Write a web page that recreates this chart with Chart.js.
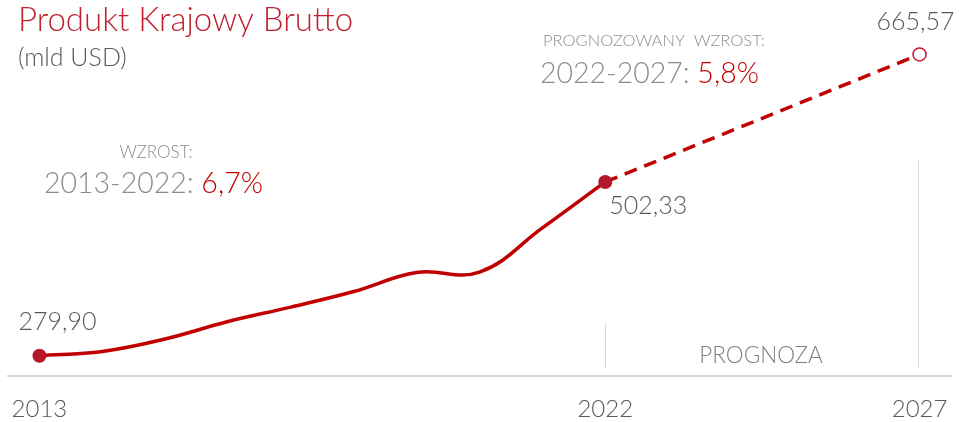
<!DOCTYPE html>
<html><head><meta charset="utf-8">
<script src="https://cdn.jsdelivr.net/npm/chart.js@4.4.1/dist/chart.umd.min.js"></script>
<style>html,body{margin:0;padding:0;background:#fff}#wrap{width:959px;height:422px;position:relative}</style>
</head><body><div id="wrap"><canvas id="c"></canvas></div>
<script>
const years = [2013,2014,2015,2016,2017,2018,2019,2020,2021,2022,2023,2024,2025,2026,2027];
const actualValues = [279.90,285.4,301.3,323.7,342.2,362.1,386.4,387.0,443.5,502.33,null,null,null,null,null];
const forecastValues = [null,null,null,null,null,null,null,null,null,502.33,null,null,null,null,665.57];
const tickYears = [2013,2022,2027];
const labelYears = [2013,2022,2027];
const titleText = 'Produkt Krajowy Brutto';
const unitText = '(mld USD)';
const growthLabel = 'WZROST:';
const growthPeriod = '2013-2022: ';
const growthValue = '6,7%';
const fcLabel = 'PROGNOZOWANY  WZROST:';
const fcPeriod = '2022-2027: ';
const fcValue = '5,8%';
const forecastText = 'PROGNOZA';

const FONT = 'Lato, "Open Sans", sans-serif';
const RED = '#c00000';
const DOT = '#b5172b';

function pts(vals){ return years.map((y,i)=>({x:y,y:vals[i]})).filter(p=>p.y!==null); }
function fmt(v){ return v.toFixed(2).replace('.', ','); }

const annot = {
  id:'annot',
  beforeDatasetsDraw(chart){
    const ctx = chart.ctx, xs = chart.scales.x;
    ctx.save();
    ctx.strokeStyle = '#d9d9d9'; ctx.lineWidth = 1;
    const x1 = Math.round(xs.getPixelForValue(2022)) + 0.5;
    const x2 = Math.round(xs.getPixelForValue(2027)) - 1.5;
    ctx.beginPath(); ctx.moveTo(x1,323); ctx.lineTo(x1,368); ctx.stroke();
    ctx.beginPath(); ctx.moveTo(x2,160); ctx.lineTo(x2,368); ctx.stroke();
    ctx.restore();
  },
  afterDraw(chart){
    const ctx = chart.ctx, xs = chart.scales.x, ys = chart.scales.y;
    ctx.save();
    ctx.textBaseline = 'alphabetic';
    ctx.fillStyle = '#be1e2d'; ctx.font = '300 33px ' + FONT; ctx.textAlign='left';
    ctx.fillText(titleText, 18, 31);
    ctx.fillStyle = '#595959'; ctx.font = '300 25px ' + FONT;
    ctx.fillText(unitText, 18, 66);
    ctx.fillStyle = '#8c8c8c'; ctx.font = '300 17px ' + FONT; ctx.textAlign='center';
    ctx.fillText(growthLabel, 156, 158);
    ctx.font = '300 28.5px ' + FONT; ctx.textAlign='left';
    let w = ctx.measureText(growthPeriod).width;
    ctx.fillText(growthPeriod, 44, 193);
    ctx.fillStyle = RED; ctx.fillText(growthValue, 44 + w, 193);
    ctx.fillStyle = '#8c8c8c'; ctx.font = '300 16.5px ' + FONT; ctx.textAlign='left';
    ctx.fillText(fcLabel, 543, 46);
    ctx.font = '300 28.5px ' + FONT;
    w = ctx.measureText(fcPeriod).width;
    ctx.fillText(fcPeriod, 540, 83);
    ctx.fillStyle = RED; ctx.fillText(fcValue, 540 + w, 83);
    ctx.fillStyle = '#7f7f7f'; ctx.font = '300 22.5px ' + FONT; ctx.textAlign='center';
    ctx.fillText(forecastText, 761, 363);
    ctx.fillStyle = '#595959'; ctx.font = '300 25px ' + FONT;
    const v0 = actualValues[0], v1 = actualValues[9], v2 = forecastValues[14];
    ctx.textAlign='left';
    ctx.fillText(fmt(v0), xs.getPixelForValue(labelYears[0]) - 21, ys.getPixelForValue(v0) - 26);
    ctx.fillText(fmt(v1), xs.getPixelForValue(labelYears[1]) + 4, ys.getPixelForValue(v1) + 32);
    ctx.textAlign='center';
    ctx.fillText(fmt(v2), xs.getPixelForValue(labelYears[2]) - 4, ys.getPixelForValue(v2) - 24);
    ctx.restore();
  }
};

new Chart(document.getElementById('c'), {
  type:'line',
  data:{ datasets:[
    { data: pts(forecastValues), borderColor: RED, borderWidth: 3.5, borderDash:[13,8], tension:0,
      pointRadius:[0,6.5], pointBackgroundColor:'#fff', pointBorderColor:'#c8102e', pointBorderWidth:1.5, order:2 },
    { data: pts(actualValues), borderColor: RED, borderWidth: 3.5, tension:0.4,
      pointRadius: pts(actualValues).map(p=> (p.x===2013||p.x===2022)?7:0),
      pointBackgroundColor: DOT, pointBorderColor: DOT, pointBorderWidth:0, order:1 }
  ]},
  options:{
    responsive:true, maintainAspectRatio:false, animation:false,
    layout:{ padding:{ left:7.5, right:5.5, top:40, bottom:0 } },
    plugins:{ legend:{display:false}, tooltip:{enabled:false}, title:{display:false} },
    scales:{
      x:{ type:'linear', min:2012.5, max:2027.5,
        afterBuildTicks(s){ s.ticks = tickYears.map(v=>({value:v})); },
        afterFit(s){ s.height = 46; s.paddingLeft = 0; s.paddingRight = 0; },
        grid:{ display:false, drawTicks:false },
        border:{ display:true, color:'#d9d9d9', width:2 },
        ticks:{ color:'#595959', font:{ family:FONT, size:24, weight:'300' }, padding:19, maxRotation:0, autoSkip:false,
          callback:v=>String(v) } },
      y:{ display:false, min:254, max:684 }
    }
  },
  plugins:[annot]
});
</script></body></html>
